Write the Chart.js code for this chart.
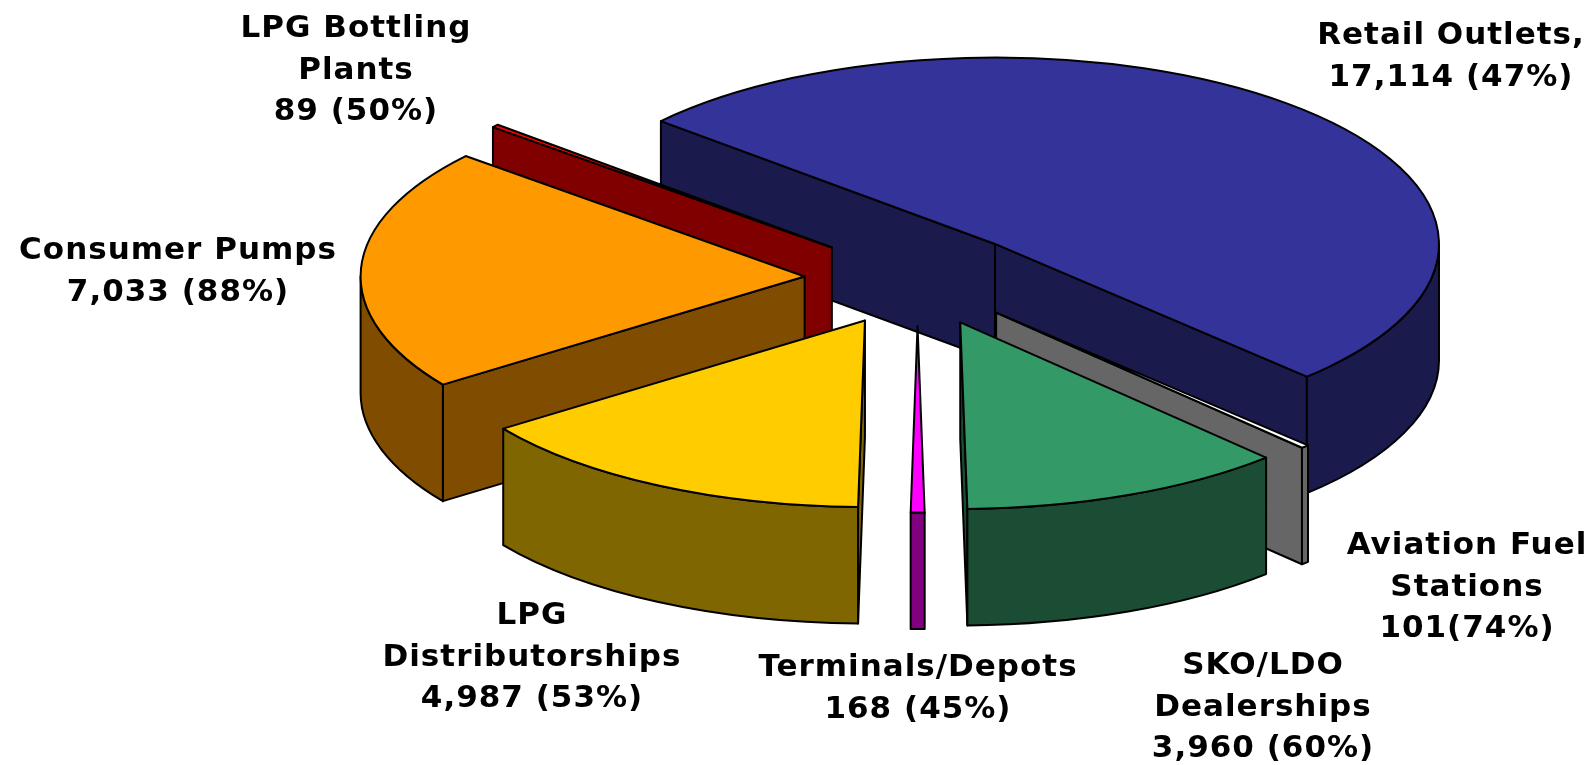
<!DOCTYPE html>
<html>
<head>
<meta charset="utf-8">
<style>html,body{margin:0;padding:0;background:#fff}canvas{display:block}</style>
<script src="https://cdn.jsdelivr.net/npm/chart.js@4/dist/chart.umd.js"></script>
</head>
<body>
<canvas id="c" width="1593" height="765"></canvas>
<script>
const categories = ["Retail Outlets","Aviation Fuel Stations","SKO/LDO Dealerships","Terminals/Depots","LPG Distributorships","Consumer Pumps","LPG Bottling Plants"];
const values = [17114,101,3960,168,4987,7033,89];
const topColors = ["#333399","#FFFFFF","#339966","#FF00FF","#FFCC00","#FF9900","#FF0000"];
const wallColors = ["#1A1A4D","#666666","#1A4D33","#800080","#806600","#804D00","#800000"];
const labelLines = [
  ["Retail Outlets,","17,114 (47%)"],
  ["Aviation Fuel","Stations","101(74%)"],
  ["SKO/LDO","Dealerships","3,960 (60%)"],
  ["Terminals/Depots","168 (45%)"],
  ["LPG","Distributorships","4,987 (53%)"],
  ["Consumer Pumps","7,033 (88%)"],
  ["LPG Bottling","Plants","89 (50%)"]
];
const labelCenters = [[1451,36],[1467,546],[1263,666],[918,668],[532,616],[178,251],[356,29]];
const lineGap = 41.5;
const squash = 0.42, depth = 116.5, explode = 113;

const pie3d = {
  id:'pie3d',
  beforeDatasetDraw(chart){
    const ctx = chart.ctx;
    const arcs = chart.getDatasetMeta(0).data;
    const items = arcs.map((a,i)=>{
      const mid=(a.startAngle+a.endAngle)/2, off=a.options.offset;
      const x=a.x+Math.cos(mid)*off, y=a.y+Math.sin(mid)*off;
      return {a,i,x,y,s:a.startAngle,e:a.endAngle,r:a.outerRadius,cy:a.y};
    }).sort((p,q)=>p.y-q.y);
    ctx.save();
    ctx.lineWidth=2; ctx.strokeStyle='#000'; ctx.lineJoin='round';
    for(const it of items){
      const {x,s,e,r,cy}=it;
      const Y=cy+(it.y-cy)*squash, ry=r*squash;
      const px=t=>x+r*Math.cos(t), py=t=>Y+ry*Math.sin(t);
      ctx.fillStyle=wallColors[it.i];
      const quad=t=>{
        ctx.beginPath();ctx.moveTo(x,Y);ctx.lineTo(px(t),py(t));
        ctx.lineTo(px(t),py(t)+depth);ctx.lineTo(x,Y+depth);ctx.closePath();ctx.fill();ctx.stroke();
      };
      if(Math.cos(s)<0) quad(s);
      if(Math.cos(e)>0) quad(e);
      for(let n=-1;n<3;n++){
        const a0=Math.max(s,2*Math.PI*n), a1=Math.min(e,2*Math.PI*n+Math.PI);
        if(a1>a0){
          ctx.beginPath();
          ctx.ellipse(x,Y,r,ry,0,a0,a1);
          ctx.ellipse(x,Y+depth,r,ry,0,a1,a0,true);
          ctx.closePath();ctx.fill();ctx.stroke();
        }
      }
      ctx.fillStyle=topColors[it.i];
      ctx.beginPath();ctx.moveTo(x,Y);ctx.ellipse(x,Y,r,ry,0,s,e);ctx.closePath();ctx.fill();ctx.stroke();
    }
    ctx.restore();
    return false;
  },
  afterDraw(chart){
    const ctx=chart.ctx;
    ctx.save();
    ctx.fillStyle='#000';ctx.font='bold 31px "DejaVu Sans"';ctx.textAlign='center';ctx.textBaseline='middle';
    ctx.letterSpacing='1px';
    labelLines.forEach((lines,i)=>{
      lines.forEach((t,j)=>ctx.fillText(t,labelCenters[i][0],labelCenters[i][1]+j*lineGap));
    });
    ctx.restore();
  }
};

new Chart(document.getElementById('c'),{
  type:'pie',
  data:{labels:categories,datasets:[{data:values,backgroundColor:topColors,offset:explode,borderWidth:0,radius:444}]},
  options:{
    responsive:false,animation:false,rotation:-48.8,
    layout:{padding:{left:242,bottom:208}},
    plugins:{legend:{display:false},tooltip:{enabled:false}}
  },
  plugins:[pie3d]
});
</script>
</body>
</html>
